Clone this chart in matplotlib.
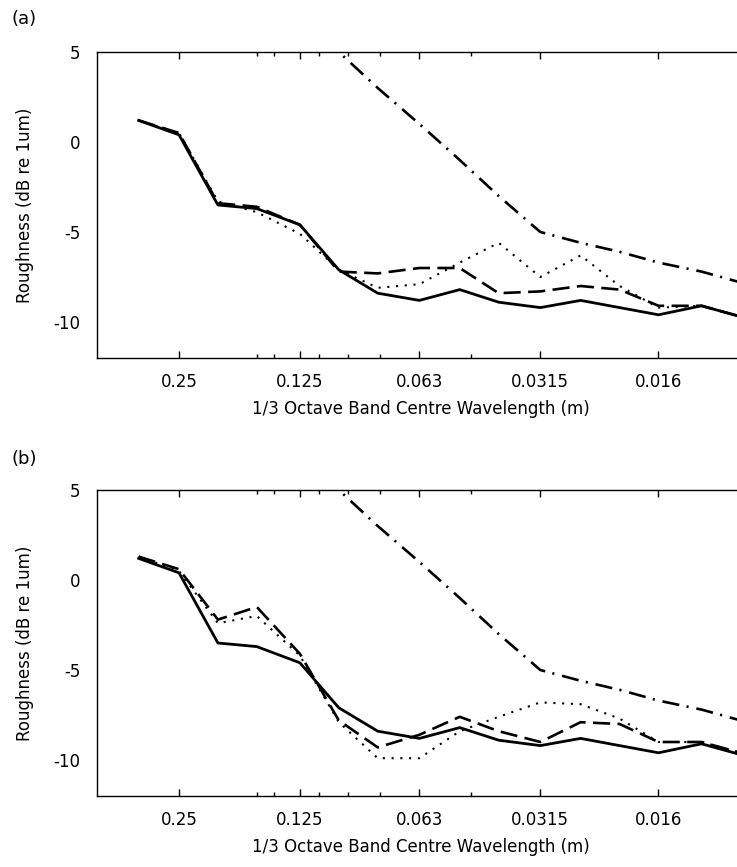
import numpy as np
import matplotlib.pyplot as plt
from matplotlib.ticker import FixedLocator, FixedFormatter, NullFormatter

# 1/3 octave band centre wavelengths (m)
wavelength = [0.315, 0.25, 0.2, 0.16, 0.125, 0.1, 0.08, 0.063, 0.05,
              0.04, 0.0315, 0.025, 0.02, 0.016, 0.0125, 0.01]

# common curves (same in both panels)
solid_ref = [1.2, 0.4, -3.5, -3.7, -4.6, -7.1, -8.4, -8.8, -8.2,
             -8.9, -9.2, -8.8, -9.2, -9.6, -9.1, -9.7]
limit_curve = [np.nan, np.nan, np.nan, np.nan, 7.0, 5.0, 3.0, 1.0, -1.0,
               -3.0, -5.0, -5.6, -6.1, -6.7, -7.2, -7.8]

# panel (a)
dashed_a = [1.2, 0.5, -3.4, -3.6, -4.6, -7.2, -7.3, -7.0, -7.0,
            -8.4, -8.3, -8.0, -8.2, -9.1, -9.1, -9.7]
dotted_a = [1.2, 0.5, -3.3, -3.9, -5.1, -7.1, -8.1, -7.9, -6.7,
            -5.6, -7.5, -6.3, -8.0, -9.2, -9.1, -9.7]

# panel (b)
dashed_b = [1.3, 0.6, -2.2, -1.5, -4.1, -7.8, -9.3, -8.6, -7.6,
            -8.4, -9.0, -7.9, -8.0, -9.0, -9.0, -9.6]
dotted_b = [1.3, 0.5, -2.4, -2.0, -4.2, -7.9, -9.9, -9.9, -8.4,
            -7.6, -6.8, -6.9, -7.7, -9.0, -9.0, -9.6]

tick_vals = [0.25, 0.125, 0.063, 0.0315, 0.016]
tick_labels = ['0.25', '0.125', '0.063', '0.0315', '0.016']
minor_vals = [0.16, 0.145, 0.112, 0.095, 0.079, 0.047]

plt.rcParams['font.family'] = 'DejaVu Sans'
plt.rcParams['font.size'] = 12

W, H = 737, 867
fig = plt.figure(figsize=(W / 100, H / 100), dpi=100)


def make_panel(rect, dashed, dotted, tag, tag_y):
    ax = fig.add_axes(rect)
    ax.plot(wavelength, limit_curve, color='black', lw=1.9,
            linestyle=(0, (6.5, 2.8, 0.8, 3.0)))
    ax.plot(wavelength, dotted, color='black', lw=1.5,
            linestyle=(0, (1, 3.2)))
    ax.plot(wavelength, dashed, color='black', lw=1.9,
            linestyle=(0, (6.5, 2.8)))
    ax.plot(wavelength, solid_ref, color='black', lw=2.0)

    ax.set_xscale('log')
    ax.set_xlim(0.4, 0.0098)
    ax.set_ylim(-12, 5)
    ax.set_yticks([5, 0, -5, -10])
    ax.set_yticklabels(['5', '0', '-5', '-10'])
    ax.xaxis.set_major_locator(FixedLocator(tick_vals))
    ax.xaxis.set_major_formatter(FixedFormatter(tick_labels))
    ax.xaxis.set_minor_locator(FixedLocator(minor_vals))
    ax.xaxis.set_minor_formatter(NullFormatter())
    ax.tick_params(axis='x', which='major', direction='in', length=5,
                   width=1, top=True, pad=11)
    ax.tick_params(axis='x', which='minor', direction='in', length=3,
                   width=1, top=True)
    ax.tick_params(axis='y', length=0, pad=12)
    for s in ax.spines.values():
        s.set_linewidth(1.0)
    ax.spines['right'].set_visible(False)
    ax.set_xlabel('1/3 Octave Band Centre Wavelength (m)', labelpad=6)
    ax.set_ylabel('Roughness (dB re 1um)', labelpad=14)
    fig.text(12 / W, 1 - tag_y / H, tag, ha='left', va='center', fontsize=13)
    return ax


ax_a = make_panel([97 / W, 1 - 358 / H, 647 / W, 306 / H],
                  dashed_a, dotted_a, '(a)', 19)
ax_b = make_panel([97 / W, 1 - 796 / H, 647 / W, 306 / H],
                  dashed_b, dotted_b, '(b)', 459)

fig.savefig('out.png', dpi=100)
